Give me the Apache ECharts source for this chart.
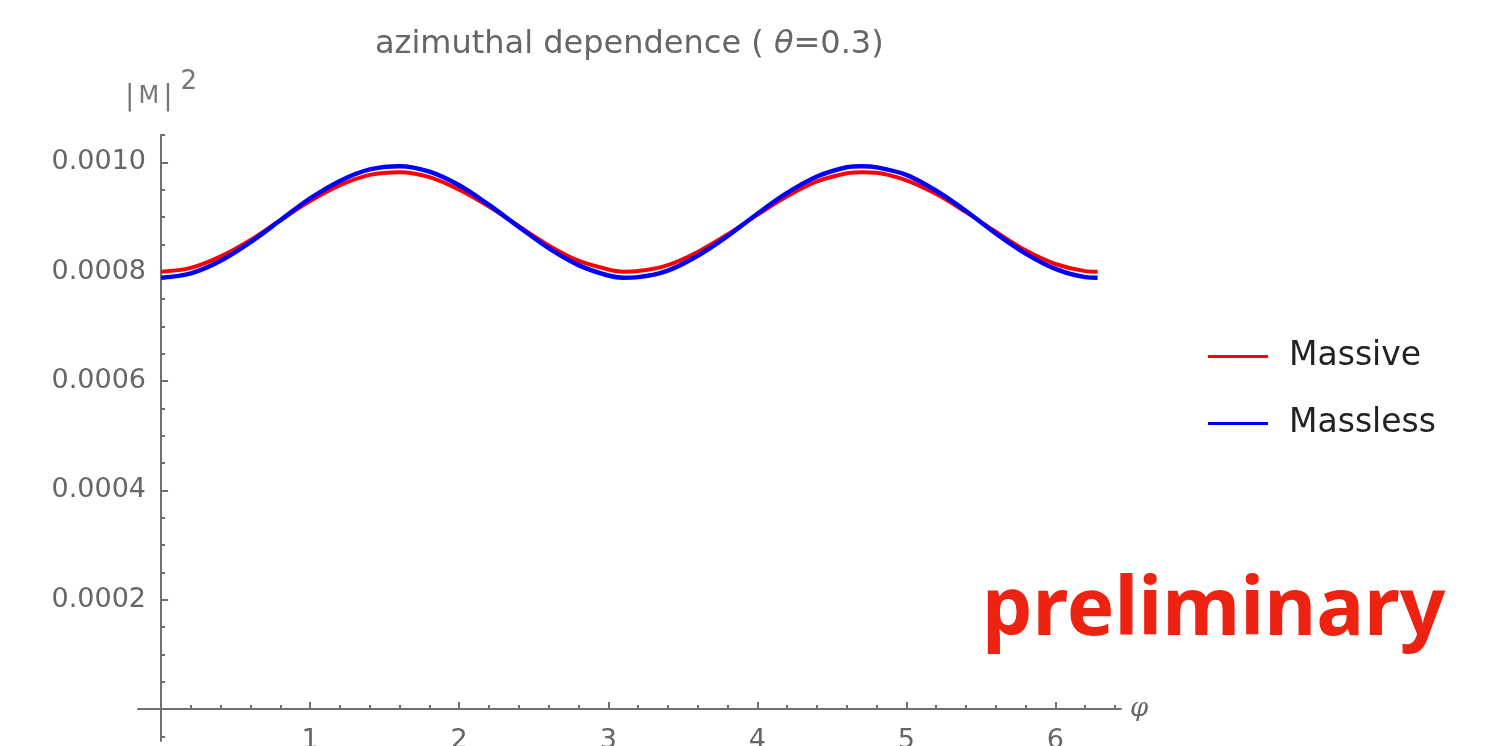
<!DOCTYPE html>
<html>
<head>
<meta charset="utf-8">
<script src="https://cdn.jsdelivr.net/npm/echarts@6/dist/echarts.min.js"></script>
<style>
  html, body { margin: 0; padding: 0; background: #fff; }
  #azimuthal_chart { width: 1500px; height: 746px; }
</style>
</head>
<body>
<div id="azimuthal_chart"></div>
<script>
// phi samples
var phiData = [0, 0.2, 0.4, 0.6, 0.8, 1.0, 1.2, 1.4, 1.6, 1.8, 2.0, 2.2, 2.4, 2.6, 2.8, 3.0, 3.1,
  3.2, 3.4, 3.6, 3.8, 4.0, 4.2, 4.4, 4.6, 4.7, 4.8, 5.0, 5.2, 5.4, 5.6, 5.8, 6.0, 6.2, 6.283];
var massiveData = [0.000800, 0.000807, 0.000828, 0.000858, 0.000894, 0.000929, 0.000958, 0.000977,
  0.000982, 0.000973, 0.000950, 0.000919, 0.000883, 0.000848, 0.000820, 0.000804, 0.000800,
  0.000801, 0.000812, 0.000836, 0.000868, 0.000904, 0.000938, 0.000965, 0.000980, 0.000982,
  0.000981, 0.000967, 0.000942, 0.000909, 0.000873, 0.000839, 0.000814, 0.000801, 0.000800];
var masslessData = [0.000789, 0.000797, 0.000820, 0.000854, 0.000894, 0.000934, 0.000966, 0.000987,
  0.000993, 0.000983, 0.000958, 0.000922, 0.000882, 0.000843, 0.000812, 0.000793, 0.000789,
  0.000790, 0.000802, 0.000829, 0.000865, 0.000906, 0.000944, 0.000974, 0.000991, 0.000993,
  0.000991, 0.000977, 0.000948, 0.000911, 0.000870, 0.000833, 0.000805, 0.000790, 0.000789];

// ticks
var xMajorTicks = [1, 2, 3, 4, 5, 6];
var xMinorTicks = [0.2, 0.4, 0.6, 0.8, 1.2, 1.4, 1.6, 1.8, 2.2, 2.4, 2.6, 2.8, 3.2, 3.4, 3.6, 3.8,
  4.2, 4.4, 4.6, 4.8, 5.2, 5.4, 5.6, 5.8, 6.2, 6.4];
var yMajorTicks = [0.0002, 0.0004, 0.0006, 0.0008, 0.0010];
var yMinorTicks = [-0.00005, 0.00005, 0.0001, 0.00015, 0.00025, 0.0003, 0.00035, 0.00045, 0.0005,
  0.00055, 0.00065, 0.0007, 0.00075, 0.00085, 0.0009, 0.00095, 0.00105];

var axisGray = "#707070";
var labelGray = "#666";
var xMin = -0.155, xMax = 6.44;
var yMin = -0.0000586, yMax = 0.00105;

function pairs(ys) {
  return phiData.map(function (x, i) { return [x, ys[i]]; });
}

var chart = echarts.init(document.getElementById("azimuthal_chart"));
var option = {
  animation: false,
  backgroundColor: "#fff",
  title: [
    {
      text: "azimuthal dependence ( {i|θ}=0.3)",
      left: 370,
      top: 24,
      textStyle: {
        fontFamily: "DejaVu Sans",
        fontSize: 32,
        fontWeight: "normal",
        color: labelGray,
        rich: {
          i: { fontFamily: "DejaVu Sans", fontSize: 32, fontStyle: "italic", color: labelGray },
        },
      },
    },
    {
      text: "preliminary",
      left: 977,
      top: 567,
      textStyle: {
        fontFamily: "Noto Sans",
        fontSize: 80,
        fontWeight: "bold",
        color: "#ee2211",
      },
    },
  ],
  legend: {
    orient: "vertical",
    left: 1203,
    top: 335,
    itemWidth: 60,
    itemHeight: 14,
    itemGap: 34,
    icon: "path://M0,6 L60,6 L60,9 L0,9 Z",
    selectedMode: false,
    textStyle: {
      fontFamily: "DejaVu Sans",
      fontSize: 33,
      color: "#222",
      padding: [0, 0, 0, 16],
    },
    data: ["Massive", "Massless"],
  },
  grid: {
    left: 138,
    right: 379,
    top: 135,
    bottom: 5,
    containLabel: false,
    outerBoundsMode: "none",
  },
  xAxis: [
    {
      type: "value",
      min: xMin,
      max: xMax,
      position: "bottom",
      name: "φ",
      nameLocation: "end",
      nameGap: 9,
      nameTextStyle: {
        fontFamily: "DejaVu Serif",
        fontStyle: "italic",
        fontSize: 26,
        color: labelGray,
      },
      axisLine: { onZero: true, onZeroAxisIndex: 0, lineStyle: { color: axisGray, width: 2 } },
      axisTick: {
        inside: true,
        length: 7,
        customValues: xMajorTicks,
        lineStyle: { color: axisGray, width: 2 },
      },
      axisLabel: {
        customValues: xMajorTicks,
        margin: -14,
        fontFamily: "DejaVu Sans",
        fontSize: 27,
        color: labelGray,
      },
      splitLine: { show: false },
    },
    {
      type: "value",
      min: xMin,
      max: xMax,
      position: "bottom",
      axisLine: { show: false, onZero: true, onZeroAxisIndex: 0 },
      axisTick: {
        inside: true,
        length: 4,
        customValues: xMinorTicks,
        lineStyle: { color: axisGray, width: 2 },
      },
      axisLabel: { show: false },
      splitLine: { show: false },
    },
  ],
  yAxis: [
    {
      type: "value",
      min: yMin,
      max: yMax,
      position: "left",
      name: "{a||}{m|M}{a||}{b|2}",
      nameLocation: "end",
      nameGap: 23,
      nameTextStyle: {
        rich: {
          a: {
            fontFamily: "DejaVu Sans",
            fontSize: 28,
            color: "#777",
            lineHeight: 43,
            verticalAlign: "bottom",
          },
          m: {
            fontFamily: "DejaVu Sans",
            fontSize: 24,
            color: "#777",
            lineHeight: 43,
            verticalAlign: "bottom",
            padding: [0, 4, 3, 4],
          },
          b: {
            fontFamily: "DejaVu Sans",
            fontSize: 26,
            color: "#777",
            lineHeight: 43,
            verticalAlign: "top",
            padding: [0, 0, 0, 8],
          },
        },
      },
      axisLine: { onZero: true, onZeroAxisIndex: 0, lineStyle: { color: axisGray, width: 2 } },
      axisTick: {
        inside: true,
        length: 7,
        customValues: yMajorTicks,
        lineStyle: { color: axisGray, width: 2 },
      },
      axisLabel: {
        customValues: yMajorTicks,
        margin: -8,
        fontFamily: "DejaVu Sans",
        fontSize: 27,
        color: labelGray,
        formatter: function (v) {
          return v.toFixed(4);
        },
      },
      splitLine: { show: false },
    },
    {
      type: "value",
      min: yMin,
      max: yMax,
      position: "left",
      axisLine: { show: false, onZero: true, onZeroAxisIndex: 0 },
      axisTick: {
        inside: true,
        length: 4,
        customValues: yMinorTicks,
        lineStyle: { color: axisGray, width: 2 },
      },
      axisLabel: { show: false },
      splitLine: { show: false },
    },
  ],
  series: [
    {
      name: "Massive",
      type: "line",
      smooth: 0.33,
      showSymbol: false,
      xAxisIndex: 0,
      yAxisIndex: 0,
      lineStyle: { color: "#ff0000", width: 4 },
      itemStyle: { color: "#ff0000" },
      data: pairs(massiveData),
    },
    {
      name: "Massless",
      type: "line",
      smooth: 0.33,
      showSymbol: false,
      xAxisIndex: 0,
      yAxisIndex: 0,
      lineStyle: { color: "#0000ff", width: 4.5 },
      itemStyle: { color: "#0000ff" },
      data: pairs(masslessData),
    },
  ],
};
chart.setOption(option);
</script>
</body>
</html>
